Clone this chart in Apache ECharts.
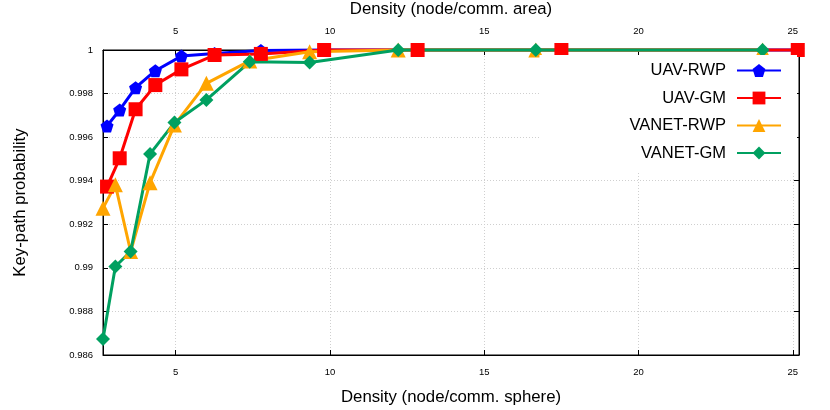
<!DOCTYPE html>
<html>
<head>
<meta charset="utf-8">
<script src="https://cdn.jsdelivr.net/npm/echarts@6/dist/echarts.min.js"></script>
<style>html,body{margin:0;padding:0;background:#fff}#c{width:830px;height:410px}</style>
</head>
<body>
<div id="c"></div>
<script>
// Data
const uavX   = [2.775, 3.185, 3.70, 4.34, 5.185, 6.26, 7.76, 9.81, 12.84, 17.50, 25.16];
const vanetX = [2.644, 3.045, 3.54, 4.17, 4.96, 5.995, 7.40, 9.34, 12.21, 16.67, 24.02];
const uavRwp   = [0.99651, 0.99725, 0.99827, 0.99905, 0.99972, 0.99984, 0.99998, 1, 1, 1, 1];
const uavGm    = [0.99373, 0.99503, 0.99728, 0.99839, 0.99911, 0.99977, 0.99982, 1, 1, 1, 1];
const vanetRwp = [0.99274, 0.99381, 0.99075, 0.99391, 0.99656, 0.99847, 0.99950, 0.99992, 1, 1, 1];
const vanetGm  = [0.98673, 0.99006, 0.99075, 0.99523, 0.99667, 0.99771, 0.99946, 0.99943, 1, 1, 1];
const seriesNames = ['UAV-RWP', 'UAV-GM', 'VANET-RWP', 'VANET-GM'];

const zip = (xs, ys) => xs.map((x, i) => [x, ys[i]]);
const FONT = 'Liberation Sans, Arial, sans-serif';
const pentagon = 'path://M0,-1 L0.951,-0.309 L0.588,0.809 L-0.588,0.809 L-0.951,-0.309 Z';

const gridLine = {show: true, lineStyle: {color: '#cfcfcf', type: [1, 2], width: 1}};
const xCommon = {
  type: 'value', min: 2.644, max: 25.2, splitNumber: 5,
  axisLine: {show: true, lineStyle: {color: '#000', width: 1}},
  axisTick: {show: true, inside: true, length: 5, lineStyle: {color: '#000'}},
  axisLabel: {color: '#000', fontSize: 9.5, fontFamily: FONT, showMinLabel: false, showMaxLabel: false},
  nameLocation: 'middle',
  nameTextStyle: {color: '#000', fontSize: 16.8, fontFamily: FONT}
};

function mk(name, xs, ys, color, symbol, size) {
  return {
    name: name, type: 'line', data: zip(xs, ys),
    xAxisIndex: 0, yAxisIndex: 0,
    symbol: symbol, symbolSize: size, showSymbol: true, clip: false,
    lineStyle: {color: color, width: 3},
    itemStyle: {color: color, borderWidth: 0},
    emphasis: {disabled: true},
    animation: false
  };
}

const chart = echarts.init(document.getElementById('c'), null, {renderer: 'canvas'});
chart.setOption({
  animation: false,
  backgroundColor: '#fff',
  grid: {left: 103, right: 31, top: 50, bottom: 55, show: true, borderColor: '#000', borderWidth: 1,
    containLabel: false, outerBoundsMode: 'none'},
  legend: {
    orient: 'vertical', right: 33, top: 55,
    align: 'right',
    data: seriesNames,
    itemWidth: 44, itemHeight: 16, itemGap: 10.5,
    backgroundColor: '#fff',
    padding: [7, 15, 10, 90],
    textStyle: {color: '#000', fontSize: 16.5, fontFamily: FONT, padding: [0, 6, 0, 0]}
  },
  xAxis: [
    Object.assign({}, xCommon, {position: 'bottom', name: 'Density (node/comm. sphere)', nameGap: 34,
      axisLabel: Object.assign({}, xCommon.axisLabel, {margin: 12}), splitLine: gridLine}),
    Object.assign({}, xCommon, {position: 'top', name: 'Density (node/comm. area)', nameGap: 32,
      axisLabel: Object.assign({}, xCommon.axisLabel, {margin: 14}), splitLine: {show: false}})
  ],
  yAxis: [
    {
      type: 'value', min: 0.986, max: 1, interval: 0.002, position: 'left',
      name: 'Key-path probability', nameLocation: 'middle', nameGap: 74,
      nameTextStyle: {color: '#000', fontSize: 16.8, fontFamily: FONT},
      axisLine: {show: true, lineStyle: {color: '#000'}},
      axisTick: {show: true, inside: true, length: 5, lineStyle: {color: '#000'}},
      axisLabel: {color: '#000', fontSize: 9.5, fontFamily: FONT, margin: 10,
        formatter: v => String(+v.toFixed(3))},
      splitLine: gridLine
    },
    {
      type: 'value', min: 0.986, max: 1, interval: 0.002, position: 'right',
      axisLine: {show: true, lineStyle: {color: '#000'}},
      axisTick: {show: true, inside: true, length: 5, lineStyle: {color: '#000'}},
      axisLabel: {show: false}, splitLine: {show: false}
    }
  ],
  series: [
    mk(seriesNames[0], uavX, uavRwp, '#0000ff', pentagon, 13),
    mk(seriesNames[1], uavX, uavGm, '#ff0000', 'rect', 14),
    mk(seriesNames[2], vanetX, vanetRwp, '#ffa500', 'triangle', 15),
    mk(seriesNames[3], vanetX, vanetGm, '#00a060', 'diamond', 14)
  ]
});
</script>
</body>
</html>
